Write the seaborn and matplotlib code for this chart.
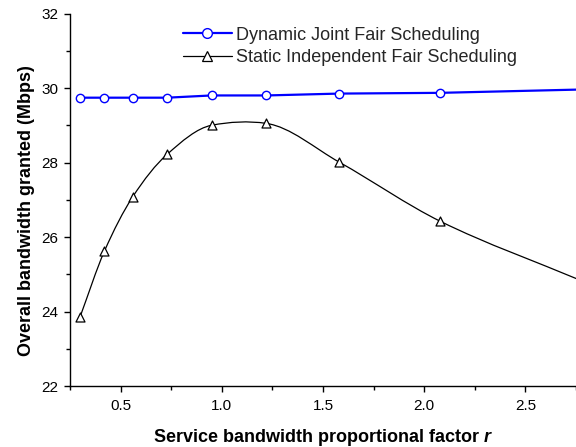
import numpy as np
import pandas as pd
import matplotlib
matplotlib.use("Agg")
import matplotlib.pyplot as plt
from matplotlib.path import Path
from matplotlib.patches import PathPatch
from matplotlib.lines import Line2D
from matplotlib.ticker import MultipleLocator
import seaborn as sns

# ---- data ----
r_values = [0.30, 0.42, 0.56, 0.73, 0.95, 1.22, 1.58, 2.08, 2.78]
dynamic_bw = [29.74, 29.74, 29.74, 29.74, 29.80, 29.80, 29.85, 29.87, 29.96]
static_bw = [23.86, 25.62, 27.08, 28.22, 29.00, 29.05, 28.01, 26.42, 24.82]
series_names = ["Dynamic Joint Fair Scheduling", "Static Independent Fair Scheduling"]
x_ticks = [0.5, 1.0, 1.5, 2.0, 2.5]
y_ticks = [22, 24, 26, 28, 30, 32]

sns.set_theme(style="ticks")
plt.rcParams["font.family"] = ["Liberation Sans", "DejaVu Sans"]
plt.rcParams["mathtext.fontset"] = "custom"
plt.rcParams["mathtext.it"] = "Liberation Sans:italic:bold"
plt.rcParams["mathtext.rm"] = "Liberation Sans:bold"

fig = plt.figure(figsize=(5.76, 4.47), dpi=100)
ax = fig.add_axes([70 / 576, 1 - 386 / 447, 1 - 70 / 576, (386 - 13.5) / 447])

df = pd.DataFrame({"r": r_values, "dyn": dynamic_bw, "sta": static_bw})

# Dynamic series: straight segments with open circles
sns.lineplot(data=df, x="r", y="dyn", ax=ax, color="#0000ff", linewidth=1.6,
             marker="o", markersize=6, markerfacecolor="white",
             markeredgecolor="#0000ff", markeredgewidth=1.0, legend=False)

# Static series: smooth cubic connection line drawn as a Bezier path
xs = np.asarray(r_values, dtype=float)
ys = np.asarray(static_bw, dtype=float)
h = np.diff(xs)
d = np.diff(ys) / h
m = np.zeros_like(ys)
m[0] = d[0]
m[-1] = d[-1]
for k in range(1, len(xs) - 1):
    cr = (ys[k + 1] - ys[k - 1]) / (xs[k + 1] - xs[k - 1])
    if d[k - 1] * d[k] <= 0:
        mono = 0.0
    else:
        w1 = 2 * h[k] + h[k - 1]
        w2 = h[k] + 2 * h[k - 1]
        mono = (w1 + w2) / (w1 / d[k - 1] + w2 / d[k])
    m[k] = 0.5 * (cr + mono)
verts = [(xs[0], ys[0])]
codes = [Path.MOVETO]
for k in range(len(xs) - 1):
    verts += [(xs[k] + h[k] / 3, ys[k] + m[k] * h[k] / 3),
              (xs[k + 1] - h[k] / 3, ys[k + 1] - m[k + 1] * h[k] / 3),
              (xs[k + 1], ys[k + 1])]
    codes += [Path.CURVE4] * 3
patch = PathPatch(Path(verts, codes), facecolor="none", edgecolor="black",
                  linewidth=0.9, zorder=2)
ax.add_patch(patch)
sns.scatterplot(data=df, x="r", y="sta", ax=ax, marker="^", s=42,
                facecolor="white", edgecolor="black", linewidth=0.9,
                zorder=3, legend=False)

ax.set_xlim(0.25, 2.75)
ax.set_ylim(22, 32)
ax.set_xticks(x_ticks)
ax.set_yticks(y_ticks)
ax.xaxis.set_minor_locator(MultipleLocator(0.25))
ax.yaxis.set_minor_locator(MultipleLocator(1))
ax.tick_params(which="both", direction="out", color="black", width=1.0,
               labelsize=11, labelcolor="black")
ax.tick_params(which="major", length=4.5)
ax.tick_params(which="minor", length=2.8)
ax.tick_params(axis="y", which="major", pad=4)
ax.tick_params(axis="x", which="major", pad=5)
for s in ["left", "bottom"]:
    ax.spines[s].set_color("black")
    ax.spines[s].set_linewidth(1.0)
sns.despine(ax=ax)

ax.set_xlabel(r"Service bandwidth proportional factor $\mathit{r}$", fontsize=13,
              fontweight="bold", labelpad=10, color="black")
ax.set_ylabel("Overall bandwidth granted (Mbps)", fontsize=13, fontweight="bold",
              color="black")
ax.yaxis.set_label_coords(-0.069, 0.47)

handles = [
    Line2D([], [], color="#0000ff", linewidth=1.6, marker="o", markersize=7,
           markerfacecolor="white", markeredgecolor="#0000ff", markeredgewidth=1.0),
    Line2D([], [], color="black", linewidth=0.9, marker="^", markersize=7,
           markerfacecolor="white", markeredgecolor="black", markeredgewidth=0.9),
]
ax.legend(handles, series_names, loc="upper left", bbox_to_anchor=(0.2233, 0.965),
          frameon=False, fontsize=13, handlelength=2.7, handletextpad=0.22,
          labelspacing=0.32, borderaxespad=0.0, borderpad=0.0)

fig.savefig("out.png", dpi=100)
